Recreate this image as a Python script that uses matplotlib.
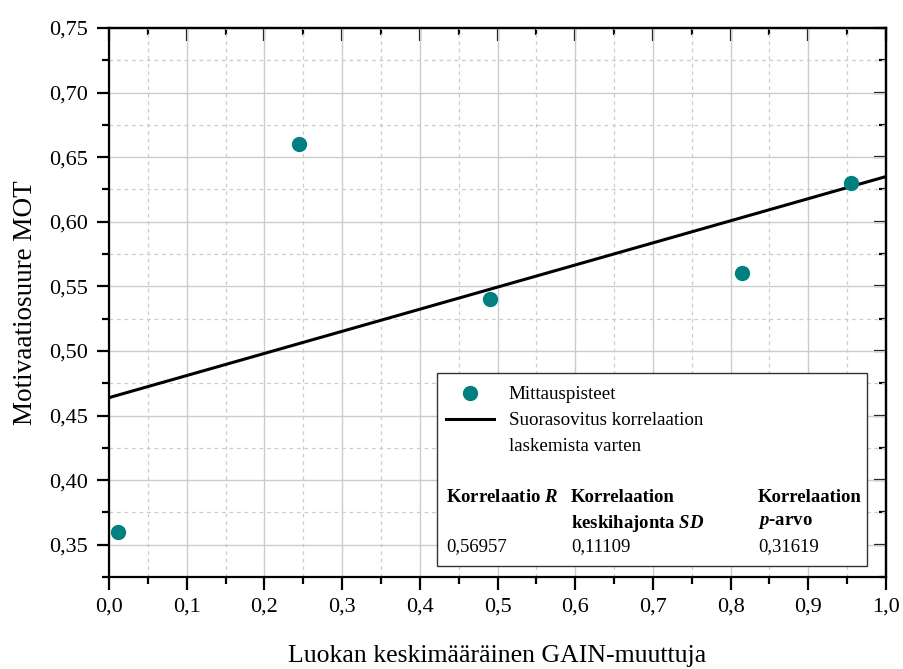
import numpy as np
import matplotlib
matplotlib.use("Agg")
import matplotlib.pyplot as plt
from matplotlib.lines import Line2D
from matplotlib.patches import Rectangle
from matplotlib.ticker import MultipleLocator, FuncFormatter, NullFormatter

plt.rcParams['font.family'] = ['Liberation Serif', 'DejaVu Serif']
plt.rcParams['mathtext.fontset'] = 'custom'
plt.rcParams['mathtext.rm'] = 'Liberation Serif'
plt.rcParams['mathtext.it'] = 'Liberation Serif:italic'
plt.rcParams['mathtext.bf'] = 'Liberation Serif:bold'
plt.rcParams['mathtext.bfit'] = 'Liberation Serif:italic:bold'

# Data
gain = [0.012, 0.245, 0.49, 0.815, 0.955]
mot = [0.36, 0.66, 0.54, 0.56, 0.63]
stat_headers = ["Korrelaatio $\\mathbfit{R}$", "Korrelaation\nkeskihajonta $\\mathbfit{SD}$", "Korrelaation\n$\\mathbfit{p}$-arvo"]
stat_values = ["0,56957", "0,11109", "0,31619"]
legend_labels = ["Mittauspisteet", "Suorasovitus korrelaation", "laskemista varten"]
xlabel = "Luokan keskimääräinen GAIN-muuttuja"
ylabel = "Motivaatiosuure MOT"

teal = "#008080"

fig = plt.figure(figsize=(9.04, 6.69), dpi=100)
W, H = 904, 669
ax = fig.add_axes([109 / W, 1 - 577 / H, (886 - 109) / W, (577 - 28) / H])

slope, intercept = np.polyfit(gain, mot, 1)
xs = np.array([0.0, 1.0])
ax.plot(xs, intercept + slope * xs, color="black", lw=2.2, zorder=3)
ax.plot(gain, mot, "o", color=teal, ms=10, mec=teal, zorder=4)

ax.set_xlim(0, 1.0)
ax.set_ylim(0.325, 0.75)

def setup_locators(axis_x, axis_y):
    if axis_x is not None:
        axis_x.set_major_locator(MultipleLocator(0.1))
        axis_x.set_minor_locator(MultipleLocator(0.05))
    if axis_y is not None:
        axis_y.set_major_locator(MultipleLocator(0.05))
        axis_y.set_minor_locator(MultipleLocator(0.025))

setup_locators(ax.xaxis, ax.yaxis)
ax.xaxis.set_major_formatter(FuncFormatter(lambda v, p: f"{v:.1f}".replace(".", ",")))
ax.yaxis.set_major_formatter(FuncFormatter(lambda v, p: f"{v:.2f}".replace(".", ",")))

ax.grid(which="major", color="#cccccc", lw=1.0, ls="-", zorder=0)
ax.grid(which="minor", color="#cccccc", lw=0.9, ls=(0, (3, 3)), zorder=0)
ax.set_axisbelow(True)

for s in ax.spines.values():
    s.set_linewidth(1.6)
ax.tick_params(which="major", direction="out", length=9, width=1.6, labelsize=16, pad=6)
ax.tick_params(which="minor", direction="out", length=5, width=1.6)

secx = ax.secondary_xaxis("top")
setup_locators(secx.xaxis, None)
secy = ax.secondary_yaxis("right")
setup_locators(None, secy.yaxis)
for sec, axis in [(secx, secx.xaxis), (secy, secy.yaxis)]:
    axis.set_major_formatter(NullFormatter())
    sec.tick_params(which="major", direction="in", length=9, width=1.6)
    sec.tick_params(which="minor", direction="in", length=5, width=1.6)
    for sp in sec.spines.values():
        sp.set_linewidth(1.6)

ax.set_xlabel(xlabel, fontsize=18.5)
ax.xaxis.set_label_coords(0.5, (577 - 645) / 549)
ax.set_ylabel(ylabel, fontsize=19.5, labelpad=8)

def axf(px, py):
    return ((px - 109) / 777, (577 - py) / 549)

# Legend box
x0, y0 = axf(437, 566)
x1, y1 = axf(867, 373)
ax.add_patch(Rectangle((x0, y0), x1 - x0, y1 - y0, transform=ax.transAxes,
                       facecolor="white", edgecolor="#333333", lw=1.0, zorder=5))

handles = [Line2D([], [], ls="none", marker="o", color=teal, ms=10),
           Line2D([], [], color="black", lw=2.2),
           Line2D([], [], ls="none")]
lx, ly = axf(446, 386)
leg = ax.legend(handles, legend_labels, loc="upper left", bbox_to_anchor=(lx, ly),
                bbox_transform=ax.transAxes, frameon=False, fontsize=13.7,
                handlelength=2.5, handletextpad=0.8, labelspacing=0.45, borderpad=0.0,
                borderaxespad=0.0)
leg.set_zorder(6)

col_px = [446, 571, 758]
for cx, hdr, val in zip(col_px, stat_headers, stat_values):
    tx, ty = axf(cx, 489)
    ax.text(tx, ty, hdr, transform=ax.transAxes, fontsize=13.5, fontweight="bold",
            va="top", ha="left", linespacing=1.45, zorder=7)
    vx, vy = axf(cx, 547)
    ax.text(vx, vy, val, transform=ax.transAxes, fontsize=13.5, va="center", ha="left", zorder=7)

fig.savefig("out.png", dpi=100)
